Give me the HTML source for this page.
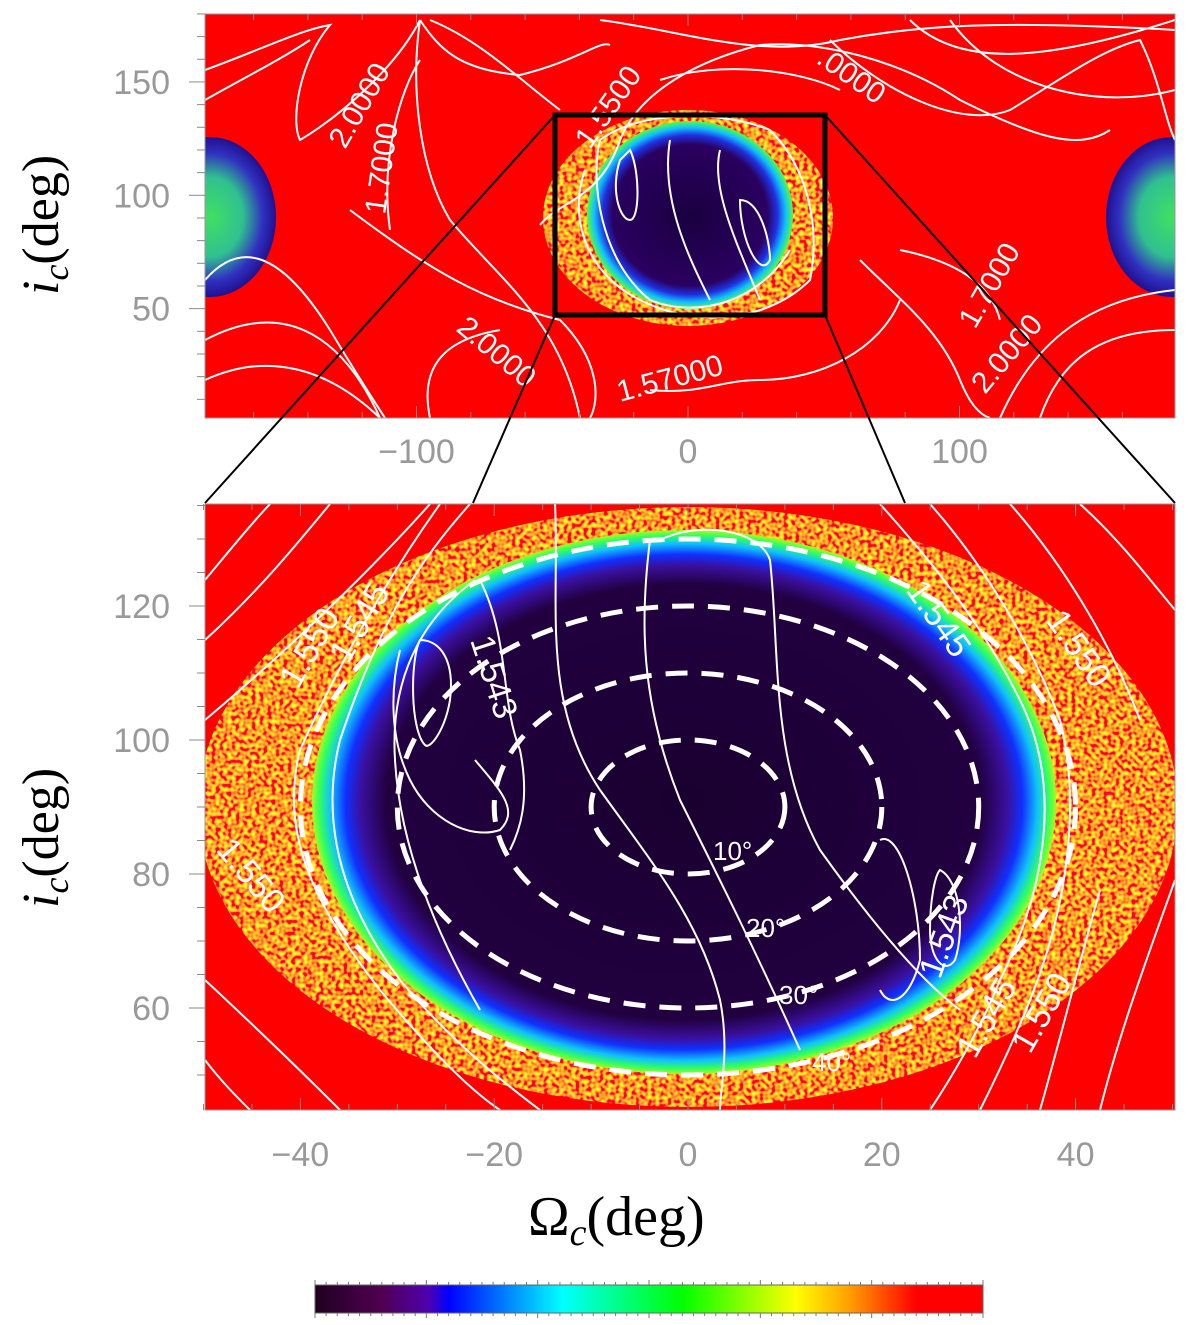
<!DOCTYPE html>
<html><head><meta charset="utf-8"><style>
html,body{margin:0;padding:0;background:#fff;width:1200px;height:1325px;overflow:hidden}
svg text{font-family:"Liberation Sans",sans-serif}
svg text.serif{font-family:"Liberation Serif",serif}
</style></head><body>
<svg id="fig" width="1200" height="1325" viewBox="0 0 1200 1325" xmlns="http://www.w3.org/2000/svg">
<defs>
 <filter id="speck" x="0" y="0" width="100%" height="100%">
  <feTurbulence type="fractalNoise" baseFrequency="0.25" numOctaves="1" seed="3"/>
  <feColorMatrix type="matrix" values="0 0 0 0 1  2.8 0 0 0 -1.05  0 0 0 0 0.02  0 0 0 0 1"/>
 </filter>
 <radialGradient id="ringB" cx="0.5" cy="0.5" r="0.5">
  <stop offset="0" stop-color="#1a0030"/><stop offset="0.8" stop-color="#220040"/>
  <stop offset="0.87" stop-color="#3a10a0"/><stop offset="0.91" stop-color="#1030ff"/>
  <stop offset="0.95" stop-color="#10c0ff"/><stop offset="0.98" stop-color="#30ff60"/>
  <stop offset="1" stop-color="#a0ff20"/>
 </radialGradient>
 <radialGradient id="ringT" cx="0.5" cy="0.5" r="0.5">
  <stop offset="0" stop-color="#1a0040"/><stop offset="0.75" stop-color="#2a0060"/>
  <stop offset="0.85" stop-color="#2030e0"/><stop offset="0.93" stop-color="#10c0ff"/>
  <stop offset="1" stop-color="#50ff40"/>
 </radialGradient>
 <radialGradient id="side" cx="0.5" cy="0.5" r="0.5">
  <stop offset="0" stop-color="#40e060"/><stop offset="0.5" stop-color="#30c090"/>
  <stop offset="0.8" stop-color="#3030c0"/><stop offset="1" stop-color="#201090"/>
 </radialGradient>
 <linearGradient id="cbar" x1="0" x2="1" y1="0" y2="0">
  <stop offset="0" stop-color="#200020"/><stop offset="0.1" stop-color="#500050"/>
  <stop offset="0.17" stop-color="#5000b0"/><stop offset="0.2" stop-color="#0000ff"/>
  <stop offset="0.37" stop-color="#00ffff"/><stop offset="0.55" stop-color="#00ff00"/>
  <stop offset="0.72" stop-color="#ffff00"/><stop offset="0.8" stop-color="#ffa000"/>
  <stop offset="0.9" stop-color="#ff0000"/><stop offset="1" stop-color="#ff0000"/>
 </linearGradient>
 <clipPath id="clipT"><rect x="205" y="14" width="970" height="404"/></clipPath>
 <clipPath id="clipB"><rect x="205" y="504" width="970" height="606"/></clipPath>
 <clipPath id="ovB"><ellipse cx="688" cy="807" rx="490" ry="300"/></clipPath>
 <clipPath id="ovT"><ellipse cx="688" cy="218" rx="145" ry="108"/></clipPath>
</defs>

<g clip-path="url(#clipT)">
 <rect x="205" y="14" width="970" height="404" fill="#ff0000"/>
 <rect x="540" y="105" width="300" height="230" filter="url(#speck)" clip-path="url(#ovT)"/>
 <ellipse cx="690" cy="215" rx="103" ry="94" fill="url(#ringT)"/>
 <ellipse cx="210" cy="217" rx="66" ry="80" fill="url(#side)"/>
 <ellipse cx="1172" cy="217" rx="66" ry="80" fill="url(#side)"/>
 <g fill="none" stroke="#fff" stroke-width="2">
  <path d="M205,70 C260,50 300,30 330,25 C300,60 290,120 300,140 C350,110 400,60 420,20"/>
  <path d="M205,100 C240,80 280,60 310,40"/>
  <path d="M420,20 C440,50 460,70 520,75 C580,60 600,40 610,45"/>
  <path d="M390,230 C380,160 400,90 420,60"/>
  <path d="M350,210 C430,270 480,300 560,320 C600,360 600,400 590,418"/>
  <path d="M420,20 C410,90 420,170 450,220 C500,280 560,320 580,418"/>
  <path d="M205,340 C280,300 340,330 380,418"/>
  <path d="M205,380 C270,350 330,370 380,418"/>
  <path d="M205,280 C240,240 280,250 330,330 C360,380 380,410 385,418"/>
  <path d="M430,418 C420,370 440,340 500,330"/>
  <path d="M430,20 C480,40 520,80 560,110"/>
  <path d="M540,225 C560,200 600,200 620,140 C640,90 700,60 760,45 C820,40 900,60 960,100 C1040,140 1080,150 1110,130"/>
  <path d="M660,80 C720,60 800,70 840,90"/>
  <path d="M600,20 C680,30 760,60 840,40 C920,25 1000,20 1175,30"/>
  <path d="M830,40 C880,90 960,130 1010,110 C1060,80 1100,50 1140,40 C1160,80 1165,120 1175,140"/>
  <path d="M910,20 C960,70 1050,60 1175,20"/>
  <path d="M950,20 C1000,90 1100,110 1175,90"/>
  <path d="M860,260 C900,300 940,330 960,380 C970,405 980,415 990,418"/>
  <path d="M900,250 C950,260 990,280 1000,320"/>
  <path d="M1040,418 C1060,360 1100,330 1175,330"/>
  <path d="M1000,418 C1030,350 1080,300 1175,290"/>
  <path d="M650,390 C700,395 720,380 760,380 C820,380 880,350 900,300"/>
  <path d="M600,140 C590,180 600,260 650,300 C700,320 760,300 790,250"/>
  <path d="M620,160 C610,190 620,220 630,220 C640,220 640,170 630,150 Z"/>
  <path d="M670,140 C660,200 690,260 710,300"/>
  <path d="M720,150 C710,190 740,250 760,300"/>
  <path d="M740,200 C760,200 770,240 770,260 C760,280 740,240 740,200 Z"/>
  <path d="M585,170 C570,210 580,270 640,300 C700,330 770,320 810,280 C820,230 810,170 770,130 C720,110 640,110 600,140"/>
 </g>
 <g fill="#fff" font-size="30">
  <text transform="translate(345,150) rotate(-60)">2.0000</text>
  <text transform="translate(385,215) rotate(-82)">1.7000</text>
  <text transform="translate(455,330) rotate(40)">2.0000</text>
  <text transform="translate(620,402) rotate(-15)">1.57000</text>
  <text transform="translate(815,62) rotate(35)">.0000</text>
  <text transform="translate(590,150) rotate(-55)">1.5500</text>
  <text transform="translate(975,330) rotate(-60)">1.7000</text>
  <text transform="translate(985,395) rotate(-50)">2.0000</text>
 </g>
</g>
<rect x="555" y="115" width="270" height="200" fill="none" stroke="#000" stroke-width="5"/>
<rect x="205" y="14" width="970" height="404" fill="none" stroke="#999" stroke-width="1"/>
<g id="topTicks"></g>

<g stroke="#000" stroke-width="2">
 <line x1="555" y1="115" x2="205" y2="503"/>
 <line x1="555" y1="315" x2="473" y2="503"/>
 <line x1="825" y1="315" x2="905" y2="503"/>
 <line x1="825" y1="115" x2="1175" y2="503"/>
</g>

<g clip-path="url(#clipB)">
 <rect x="205" y="504" width="970" height="606" fill="#ff0000"/>
 <rect x="195" y="504" width="990" height="606" filter="url(#speck)" clip-path="url(#ovB)"/>
 <ellipse cx="684" cy="802" rx="372" ry="272" fill="url(#ringB)"/>
 <g fill="none" stroke="#fff" stroke-width="2">
  <path d="M205,720 C300,640 380,560 430,504"/>
  <path d="M205,640 C260,590 300,540 330,504"/>
  <path d="M205,580 C230,550 250,525 270,504"/>
  <path d="M205,980 C280,1050 320,1090 340,1110"/>
  <path d="M205,1060 C220,1080 235,1095 250,1110"/>
  <path d="M440,504 C400,560 350,640 300,750 C280,830 310,900 380,990 C430,1050 470,1090 500,1110"/>
  <path d="M470,504 C420,560 380,620 340,740 C320,820 340,900 400,980 C450,1040 500,1080 540,1110"/>
  <path d="M475,580 C420,620 390,680 395,760 C400,850 440,940 480,1010"/>
  <path d="M420,640 C440,640 455,660 450,700 C445,730 430,750 425,745 C410,730 410,660 420,640 Z"/>
  <path d="M480,580 C510,640 500,700 520,750 C530,800 520,830 510,850"/>
  <path d="M475,760 C500,790 520,810 500,830 C470,840 430,820 410,780 C390,740 390,690 400,650"/>
  <path d="M660,540 C700,520 760,530 770,560 C780,650 770,760 820,850 C870,920 920,980 960,1010"/>
  <path d="M555,504 C560,600 540,700 600,790 C650,860 700,920 720,1000 C730,1050 720,1090 720,1110"/>
  <path d="M650,540 C640,620 640,700 680,800 C720,880 760,960 800,1050"/>
  <path d="M880,840 C900,830 920,900 920,960 C910,1000 890,1010 880,990"/>
  <path d="M940,870 C960,880 965,930 955,960 C945,975 930,960 930,930 C930,900 935,875 940,870 Z"/>
  <path d="M880,504 C930,560 980,620 1020,700 C1060,780 1050,880 1000,980 C980,1030 950,1080 930,1110"/>
  <path d="M930,504 C980,560 1030,640 1060,720 C1080,800 1070,900 1030,1000 C1010,1050 990,1090 980,1110"/>
  <path d="M1010,504 C1060,560 1110,640 1140,720"/>
  <path d="M1080,504 C1120,540 1150,580 1175,610"/>
  <path d="M1100,890 C1080,960 1060,1040 1040,1110"/>
  <path d="M1175,880 C1150,950 1120,1030 1100,1110"/>
 </g>
 <g fill="#fff" font-size="34">
  <text transform="translate(298,690) rotate(-60)">1.550</text>
  <text transform="translate(348,665) rotate(-60)">1.545</text>
  <text transform="translate(470,640) rotate(72)">1.543</text>
  <text transform="translate(905,590) rotate(55)">1.545</text>
  <text transform="translate(1045,620) rotate(55)">1.550</text>
  <text transform="translate(215,850) rotate(50)">1.550</text>
  <text transform="translate(940,980) rotate(-70)">1.543</text>
  <text transform="translate(975,1060) rotate(-60)">1.545</text>
  <text transform="translate(1030,1055) rotate(-60)">1.550</text>
 </g>
 <g id="circles"></g>
</g>
<rect x="205" y="504" width="970" height="606" fill="none" stroke="#999" stroke-width="1"/>
<g id="botTicks"></g>

<text class="serif" transform="translate(58,295) rotate(-90)" font-size="52"><tspan font-style="italic">i</tspan><tspan font-style="italic" font-size="36" dy="10">c</tspan><tspan dy="-10">(deg)</tspan></text>
<text class="serif" transform="translate(58,908) rotate(-90)" font-size="52"><tspan font-style="italic">i</tspan><tspan font-style="italic" font-size="36" dy="10">c</tspan><tspan dy="-10">(deg)</tspan></text>
<text class="serif" x="528" y="1235" font-size="56">Ω<tspan font-style="italic" font-size="38" dy="10">c</tspan><tspan dy="-10">(deg)</tspan></text>

<rect x="315" y="1285" width="668" height="28" fill="url(#cbar)" stroke="#666" stroke-width="1"/>
<g id="cbTicks"></g>
</svg>
<script>
const topXTicks=[-100,0,100];
const topYTicks=[50,100,150];
const botXTicks=[-40,-20,0,20,40];
const botYTicks=[60,80,100,120];
const circleRadii=[10,20,30,40];
const circleLabels=["10°","20°","30°","40°"];
const NS="http://www.w3.org/2000/svg";
const tx=v=>688+v*2.715, ty=v=>422-v*2.267;
const bx=v=>688+v*9.69, by=v=>807-(v-90)*6.7;
function el(t,a,p){const e=document.createElementNS(NS,t);for(const k in a)e.setAttribute(k,a[k]);p.appendChild(e);return e;}
const tt=document.getElementById('topTicks');
for(let v=-180;v<=180;v+=20){if(tx(v)<205||tx(v)>1175)continue;const big=v%100===0;
 const t=el('line',{x1:tx(v),x2:tx(v),y1:418,y2:418-(big?12:6),stroke:'#888'},tt);
 
 const t2=el('line',{x1:tx(v),x2:tx(v),y1:14,y2:14+(big?12:6),stroke:'#888'},tt);
 }
for(let v=10;v<=180;v+=10){const big=v%50===0;
 const t=el('line',{x1:205,x2:205-(big?16:8),y1:ty(v),y2:ty(v),stroke:'#888'},tt);
 }
topXTicks.forEach(v=>{const t=el('text',{x:tx(v),y:463,'font-size':34,fill:'#999','text-anchor':'middle'},tt);t.textContent=(v<0?'−':'')+Math.abs(v);
 });
topYTicks.forEach(v=>{const t=el('text',{x:170,y:ty(v)+12,'font-size':34,fill:'#999','text-anchor':'end'},tt);t.textContent=v;
 });
const bt=document.getElementById('botTicks');
for(let v=-50;v<=50;v+=5){const big=v%20===0;
 const t=el('line',{x1:bx(v),x2:bx(v),y1:1110,y2:1110-(big?12:6),stroke:'#888'},bt);
 
 const t2=el('line',{x1:bx(v),x2:bx(v),y1:504,y2:504+(big?12:6),stroke:'#888'},bt);
 }
for(let v=50;v<=135;v+=5){const big=v%20===0;
 const t=el('line',{x1:205,x2:205-(big?16:8),y1:by(v),y2:by(v),stroke:'#888'},bt);
 }
botXTicks.forEach(v=>{const t=el('text',{x:bx(v),y:1166,'font-size':34,fill:'#999','text-anchor':'middle'},bt);t.textContent=(v<0?'−':'')+Math.abs(v);
 });
botYTicks.forEach(v=>{const t=el('text',{x:170,y:by(v)+12,'font-size':34,fill:'#999','text-anchor':'end'},bt);t.textContent=v;
 });
const cg=document.getElementById('circles');
circleRadii.forEach((r,i)=>{
 const c=el('ellipse',{cx:bx(0),cy:by(90),rx:r*9.69,ry:r*6.7,fill:'none',stroke:'#fff','stroke-width':5,'stroke-dasharray':'22 14'},cg);
 
 const t=el('text',{x:bx(0)+r*2.5+(i*8),y:by(90-r)-4-(i===0?10:0),'font-size':26,fill:'#fff'},cg);t.textContent=circleLabels[i];
 });
const cb=document.getElementById('cbTicks');
for(let i=0;i<=60;i++){const x=315+i*668/60,big=i%10===0;
 const t=el('line',{x1:x,x2:x,y1:1285,y2:1285-(big?5:3),stroke:'#777'},cb);
 
 const t2=el('line',{x1:x,x2:x,y1:1313,y2:1313+(big?5:3),stroke:'#777'},cb);
 }
</script>
</body></html>
